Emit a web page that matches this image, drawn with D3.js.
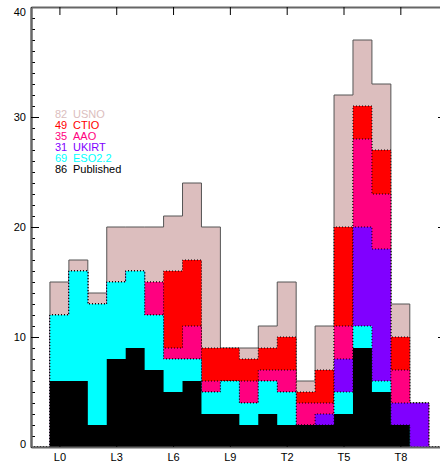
<!DOCTYPE html>
<html>
<head>
<meta charset="utf-8">
<script src="https://cdn.jsdelivr.net/npm/d3@7"></script>
<style>
  html, body { margin: 0; padding: 0; background: #fff; }
  svg { display: block; }
  text { font-family: "Liberation Sans", Arial, sans-serif; }
</style>
</head>
<body>
<svg id="chart" width="440" height="467"></svg>
<script>
// ---- data ----
const bins = ["L0","L1","L2","L3","L4","L5","L6","L7","L8","L9",
              "T0","T1","T2","T3","T4","T5","T6","T7","T8","T9"];
const tickLabels = ["L0","L3","L6","L9","T2","T5","T8"];
const published = [6,6,2,8,9,7,5,6,3,3, 2,3,2,2,2,3,9,5,2,0];
const eso       = [6,10,11,7,7,5,3,2,2,3, 2,3,3,0,0,2,2,1,0,0];
const ukirt     = [0,0,0,0,0,0,0,0,0,0, 0,0,0,0,1,3,9,12,2,4];
const aao       = [0,0,0,0,0,3,1,3,1,0, 2,1,2,2,1,3,8,5,3,0];
const ctio      = [0,0,0,0,0,0,7,6,3,3, 2,2,3,1,3,9,3,4,3,0];
const usno      = [3,1,1,5,4,5,5,7,11,0, 1,2,5,1,4,12,6,6,3,0];
const legendNames  = ["USNO","CTIO","AAO","UKIRT","ESO2.2","Published"];
const legendCounts = ["82","49","35","31","69","86"];

// stack order bottom -> top
const layers = [
  {name:"Published", values: published, color:"#000000"},
  {name:"ESO2.2",    values: eso,       color:"#00ffff"},
  {name:"UKIRT",     values: ukirt,     color:"#8000ff"},
  {name:"AAO",       values: aao,       color:"#ff0080"},
  {name:"CTIO",      values: ctio,      color:"#ff0000"},
  {name:"USNO",      values: usno,      color:"#dcbebe"}
];
const legendColors = {USNO:"#dcbebe", CTIO:"#ff0000", AAO:"#ff0080", UKIRT:"#8000ff", "ESO2.2":"#00ffff", Published:"#000000"};

// cumulative
let running = bins.map(() => 0);
layers.forEach(l => {
  running = running.map((r, i) => r + l.values[i]);
  l.cum = running.slice();
});

const svg = d3.select("#chart");
const x = d3.scaleLinear().domain([-1.5, 20.2]).range([31, 442]);
const y = d3.scaleLinear().domain([0, 40]).range([447, 7]);

function stepPoints(cum) {
  const pts = [{x: -1.5, v: 0}, {x: -0.5, v: 0}];
  cum.forEach((v, i) => { pts.push({x: i - 0.5, v}); pts.push({x: i + 0.5, v}); });
  pts.push({x: cum.length - 0.5, v: 0});
  pts.push({x: 20.2, v: 0});
  return pts;
}
const area = d3.area().x(d => x(d.x)).y0(y(0)).y1(d => y(d.v));
const line = d3.line().x(d => x(d.x)).y(d => y(d.v));

const g = svg.append("g");
// draw from top layer (total) down to bottom layer
const drawOrder = layers.slice().reverse();
drawOrder.forEach((l, k) => {
  const pts = stepPoints(l.cum);
  g.append("path").attr("d", area(pts)).attr("fill", l.color).attr("stroke", "none");
  if (k === 0) {
    g.append("path").attr("d", line(pts)).attr("fill", "none")
      .attr("stroke", "#555").attr("stroke-width", 1);
  } else if (l.name !== "Published") {
    g.append("path").attr("d", line(pts)).attr("fill", "none")
      .attr("stroke", "#000").attr("stroke-width", 1)
      .attr("stroke-dasharray", "1,2");
  }
});

// ---- axes ----
function styleAxis(sel) {
  sel.select(".domain").attr("stroke", "#666").attr("stroke-width", 2);
  sel.selectAll(".tick line").attr("stroke", "#000");
  sel.selectAll("text").attr("font-size", 11).attr("fill", "#000")
     .attr("font-family", "'Liberation Sans', Arial, sans-serif");
}
const majorY = [0,10,20,30,40];
const minorY = d3.range(0, 41).filter(v => v % 10 !== 0);
const xTickVals = tickLabels.map(t => bins.indexOf(t));

// left minor
svg.append("g").attr("transform", `translate(${x.range()[0]},0)`)
  .call(d3.axisLeft(y).tickValues(minorY).tickSize(-4).tickSizeOuter(0).tickFormat(""))
  .call(styleAxis);
// left major
const leftAx = svg.append("g").attr("transform", `translate(${x.range()[0]},0)`)
  .call(d3.axisLeft(y).tickValues(majorY).tickSize(-8).tickSizeOuter(0).tickPadding(5).tickFormat(d3.format("d")))
  .call(styleAxis);
leftAx.selectAll("text").attr("dy", d => d === 40 ? "0.78em" : d === 0 ? "0em" : "0.32em");
// right
svg.append("g").attr("transform", `translate(${x.range()[1]},0)`)
  .call(d3.axisRight(y).tickValues(majorY).tickSize(-4).tickSizeOuter(0).tickFormat(""))
  .call(styleAxis);
// top
svg.append("g").attr("transform", `translate(0,${y.range()[1]})`)
  .call(d3.axisTop(x).tickValues(xTickVals).tickSize(-8).tickSizeOuter(0).tickFormat(""))
  .call(styleAxis);
// bottom
svg.append("g").attr("transform", `translate(0,${y.range()[0]})`)
  .call(d3.axisBottom(x).tickValues(xTickVals).tickSize(-7).tickSizeOuter(0).tickPadding(6)
        .tickFormat(d => bins[d]))
  .call(styleAxis);

// ---- legend ----
const lg = svg.append("g").attr("font-size", 11);
legendNames.forEach((n, i) => {
  const yy = 118 + i * 10.9;
  lg.append("text").attr("x", 55).attr("y", yy).attr("fill", legendColors[n]).text(legendCounts[i]);
  lg.append("text").attr("x", 73).attr("y", yy).attr("fill", legendColors[n]).text(n);
});
</script>
</body>
</html>
